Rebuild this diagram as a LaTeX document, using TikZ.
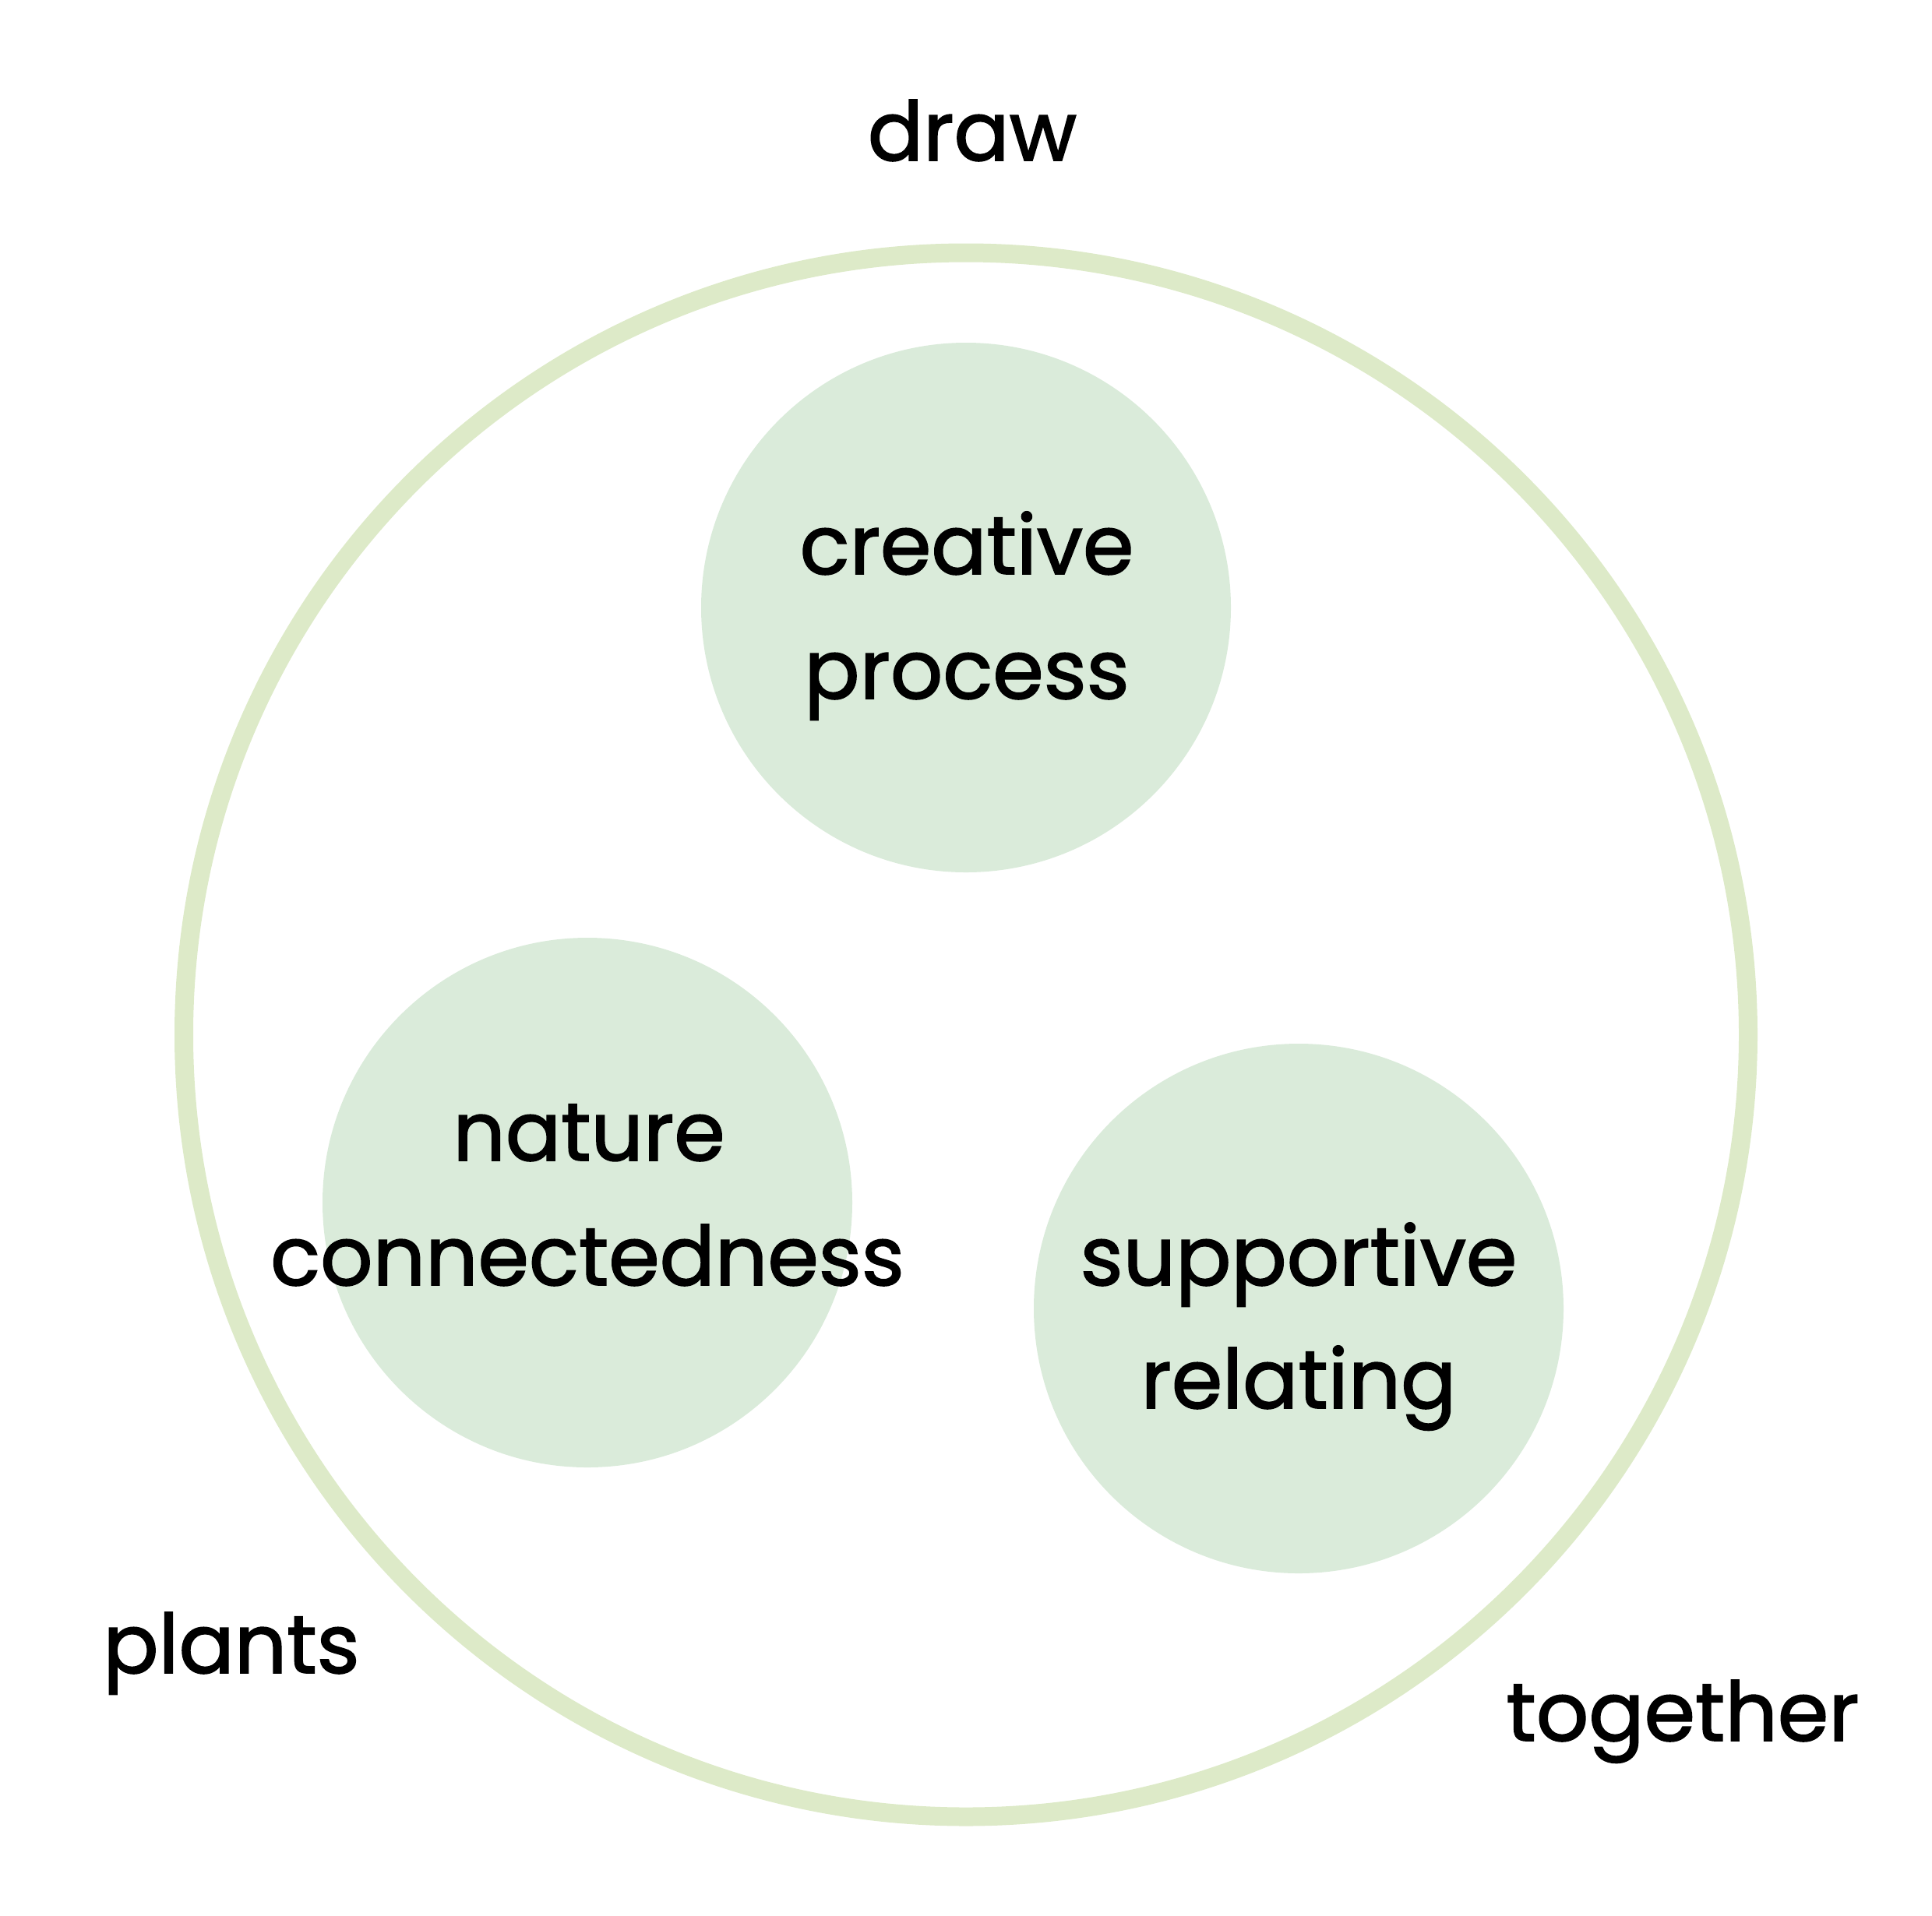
\documentclass[tikz,border=0pt]{standalone}
\usepackage{fontspec}
\setmainfont{Poppins}
\newfontfamily\handfont{Poppins}[FakeBold=1.6]
\definecolor{ringgreen}{HTML}{DDEAC8}
\definecolor{blobgreen}{HTML}{DAEBDA}
\tikzset{
  lbl/.style={anchor=base, inner sep=0pt, font=\handfont\fontsize{30}{36}\selectfont, text=black},
  blob/.style={circle, fill=blobgreen, minimum size=6.8cm, inner sep=0pt}
}
\begin{document}
\begin{tikzpicture}[x=1cm,y=-1cm]
\useasboundingbox (0,0) rectangle (24.8,24.59);
\draw[ringgreen, line width=0.24cm] (12.40,13.285) circle (10.04cm);
\node[blob] (cp) at (12.40,7.80) {};
\node[blob] (nc) at (7.54,15.44) {};
\node[blob] (sr) at (16.67,16.80) {};
\node[lbl] (t1) at (12.41,7.37) {creative};
\node[lbl] (t2) at (12.41,8.97) {process};
\node[lbl] (t3) at (7.56,14.90) {nature};
\node[lbl] (t4) at (7.54,16.50) {connectedness};
\node[lbl] (t5) at (16.67,16.50) {supportive};
\node[lbl] (t6) at (16.67,18.08) {relating};
\node[lbl] (t7) at (12.48,2.06) {draw};
\node[lbl] (t8) at (2.97,21.48) {plants};
\node[lbl] (t9) at (21.60,22.35) {together};
\end{tikzpicture}
\end{document}
